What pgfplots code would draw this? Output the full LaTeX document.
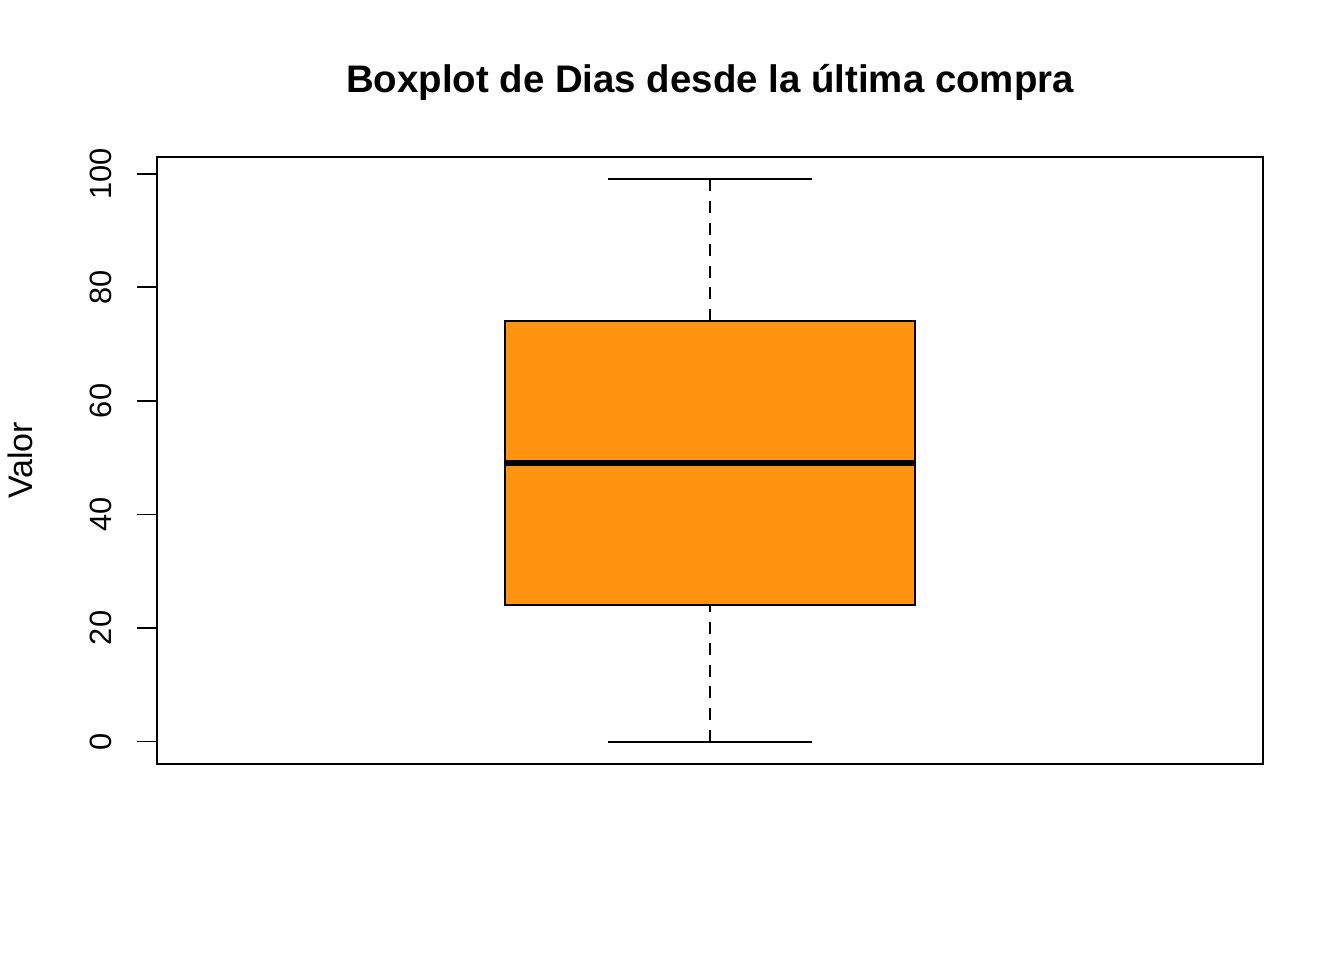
\documentclass[border=0pt]{standalone}
\usepackage{fontspec}
\setmainfont{Liberation Sans}
\usepackage{pgfplots}
\pgfplotsset{compat=1.18}
\definecolor{boxorange}{RGB}{255,148,16}
\begin{document}
\begin{tikzpicture}
\begin{axis}[
  scale only axis, width=553pt, height=303.5pt,
  xmin=0.46, xmax=1.54, ymin=-3.96, ymax=102.96,
  xtick=\empty, ytick={0,20,...,100},
  tick align=outside, major tick length=10pt,
  ytick pos=left,
  ytick style={black, line width=0.9pt},
  axis line style={line width=0.9pt},
  /pgf/number format/assume math mode=true,
  yticklabel style={rotate=90, anchor=base, yshift=13pt, font=\fontsize{15.4}{18}\selectfont, inner sep=0pt},
  ylabel={Valor},
  ylabel style={at={(axis description cs:0,0.5)}, anchor=base, rotate=0, yshift=62pt, inner sep=0pt, font=\fontsize{17}{20}\selectfont},
  title={Boxplot de Dias desde la última compra},
  title style={at={(axis description cs:0.5,1)}, anchor=base, yshift=26pt, inner sep=0pt, font=\fontsize{19.2}{22}\selectfont\bfseries},
  clip=false,
]
\coordinate (sw) at (rel axis cs:0,0);
\coordinate (ne) at (rel axis cs:1,1);
% box
\addplot[fill=boxorange, draw=black, line width=1pt] coordinates {(0.8,24) (1.2,24) (1.2,74) (0.8,74)} -- cycle;
% whiskers
\addplot[black, line width=1pt, dash pattern=on 6pt off 4.8pt] coordinates {(1,0) (1,24)};
\addplot[black, line width=1pt, dash pattern=on 6pt off 4.8pt] coordinates {(1,99) (1,74)};
% caps
\addplot[black, line width=1pt] coordinates {(0.9,0) (1.1,0)};
\addplot[black, line width=1pt] coordinates {(0.9,99) (1.1,99)};
% median
\addplot[black, line width=3pt] coordinates {(0.8,49) (1.2,49)};
\end{axis}
\path ([shift={(-78.5pt,-98pt)}]sw) rectangle ([shift={(40.5pt,78.5pt)}]ne);
\end{tikzpicture}
\end{document}
